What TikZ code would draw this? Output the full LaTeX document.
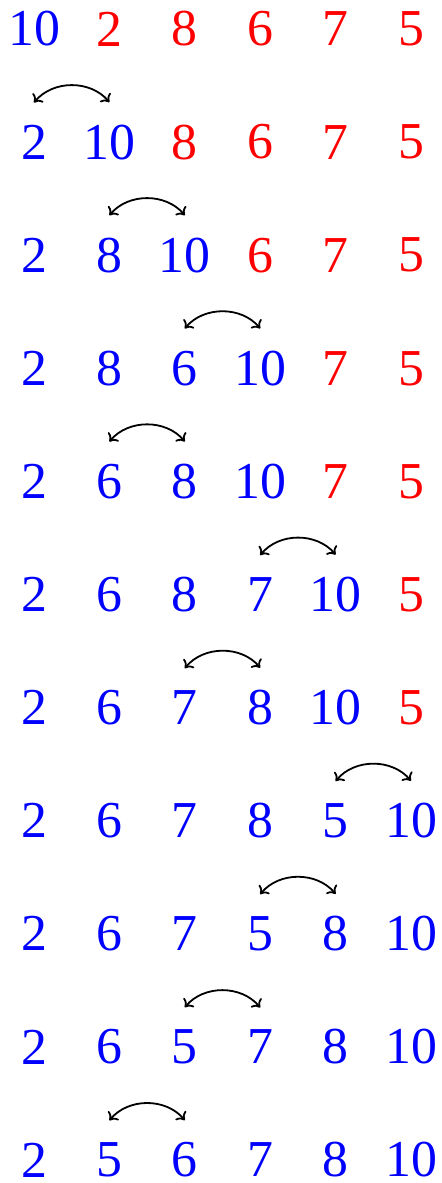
\documentclass[tikz,border=0pt]{standalone}
\usepackage{fontspec}
\setmainfont{Liberation Serif}
\usetikzlibrary{arrows.meta}
\begin{document}
\begin{tikzpicture}[x=0.5pt,y=0.5pt,
  numero/.style={font=\fontsize{25.9}{30}\selectfont,inner sep=0pt},
  scambio/.style={{To[length=3.5pt,width=7pt]}-{To[length=3.5pt,width=7pt]},
    line width=0.9pt,black}]
  \useasboundingbox (0,0) rectangle (442,-1183);
  % Righe dell'ordinamento: valori e quanti sono gia' ordinati (blu).
  \foreach \riga/\valori/\blu in {
    1/{10,2,8,6,7,5}/1, 2/{2,10,8,6,7,5}/2, 3/{2,8,10,6,7,5}/3,
    4/{2,8,6,10,7,5}/4, 5/{2,6,8,10,7,5}/4, 6/{2,6,8,7,10,5}/5,
    7/{2,6,7,8,10,5}/5, 8/{2,6,7,8,5,10}/6, 9/{2,6,7,5,8,10}/6,
    10/{2,6,5,7,8,10}/6, 11/{2,5,6,7,8,10}/6}{
    \foreach \v [count=\c] in \valori {
      \ifnum\c>\blu\def\colore{red}\else\def\colore{blue}\fi
      \node[numero,text=\colore] (n-\riga-\c)
        at ({34+75.4*(\c-1)},{-29-113.1*(\riga-1)}) {\v};
    }
  }
  % Scambi tra due posizioni vicine, sopra la riga.
  \foreach \riga/\a/\b in {2/1/2, 3/2/3, 4/3/4, 5/2/3, 6/4/5,
    7/3/4, 8/5/6, 9/4/5, 10/3/4, 11/2/3}{
    \draw[scambio] ([yshift=11pt]n-\riga-\a.north) to[bend left=50]
      ([yshift=11pt]n-\riga-\b.north);
  }
\end{tikzpicture}
\end{document}
